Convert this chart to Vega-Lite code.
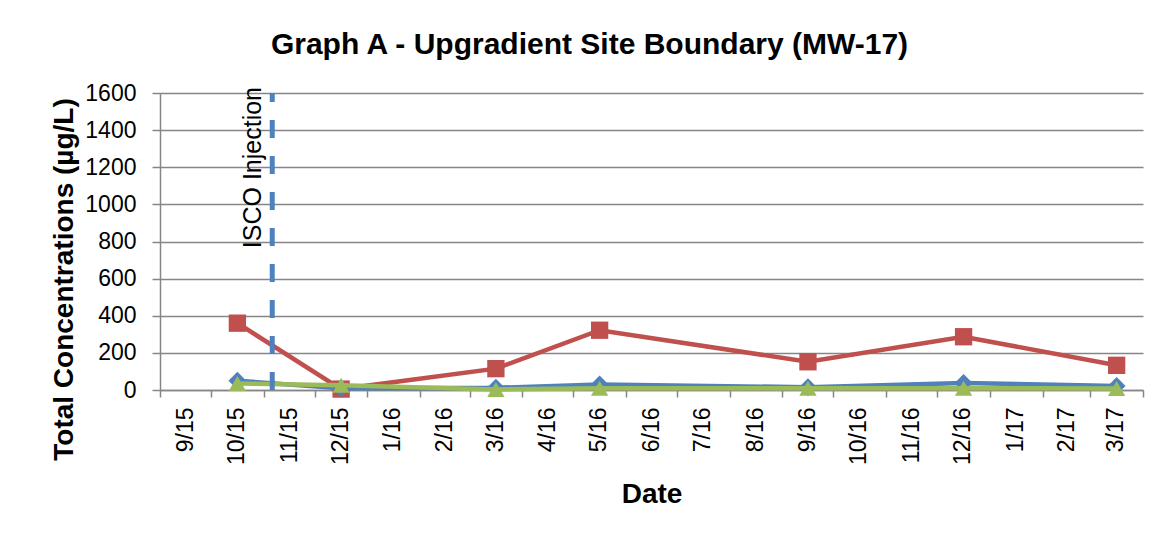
{
  "$schema": "https://vega.github.io/schema/vega-lite/v6.json",
  "width": 983,
  "height": 297,
  "autosize": {"type": "none"},
  "padding": {"left": 160, "top": 93, "right": 18, "bottom": 147},
  "background": "white",
  "config": {"view": {"stroke": null}, "font": "Liberation Sans"},
  "title": {
    "text": "Graph A - Upgradient Site Boundary (MW-17)",
    "font": "Liberation Sans",
    "fontSize": 30,
    "fontWeight": "bold",
    "color": "black",
    "anchor": "middle",
    "frame": "group",
    "dx": -62,
    "baseline": "alphabetic",
    "offset": -2
  },
  "datasets": {
    "obs": [
      {"date": "2015-10-16T12:00:00", "series": "Series 1", "value": 50},
      {"date": "2015-12-16T12:00:00", "series": "Series 1", "value": 10},
      {"date": "2016-03-16T12:00:00", "series": "Series 1", "value": 12},
      {"date": "2016-05-16T12:00:00", "series": "Series 1", "value": 30},
      {"date": "2016-09-16T00:00:00", "series": "Series 1", "value": 15},
      {"date": "2016-12-16T12:00:00", "series": "Series 1", "value": 38},
      {"date": "2017-03-16T12:00:00", "series": "Series 1", "value": 22},
      {"date": "2015-10-16T12:00:00", "series": "Series 2", "value": 360},
      {"date": "2015-12-16T12:00:00", "series": "Series 2", "value": 5},
      {"date": "2016-03-16T12:00:00", "series": "Series 2", "value": 115},
      {"date": "2016-05-16T12:00:00", "series": "Series 2", "value": 322},
      {"date": "2016-09-16T00:00:00", "series": "Series 2", "value": 152},
      {"date": "2016-12-16T12:00:00", "series": "Series 2", "value": 287},
      {"date": "2017-03-16T12:00:00", "series": "Series 2", "value": 133},
      {"date": "2015-10-16T12:00:00", "series": "Series 3", "value": 35},
      {"date": "2015-12-16T12:00:00", "series": "Series 3", "value": 25},
      {"date": "2016-03-16T12:00:00", "series": "Series 3", "value": 3},
      {"date": "2016-05-16T12:00:00", "series": "Series 3", "value": 10},
      {"date": "2016-09-16T00:00:00", "series": "Series 3", "value": 10},
      {"date": "2016-12-16T12:00:00", "series": "Series 3", "value": 10},
      {"date": "2017-03-16T12:00:00", "series": "Series 3", "value": 8}
    ],
    "event": [
      {"date": "2015-11-06T00:00:00", "label": "ISCO Injection", "ymin": 0, "ymax": 1600}
    ]
  },
  "layer": [
    {
      "data": {"name": "obs"},
      "transform": [{"filter": "datum.series === 'Series 2'"}],
      "mark": {"type": "line", "color": "#C0504D", "strokeWidth": 4.5},
      "encoding": {
        "x": {
          "field": "date", "type": "temporal",
          "scale": {"domain": [{"year": 2015, "month": 9, "date": 1}, {"year": 2017, "month": 4, "date": 1}]},
          "axis": {
            "orient": "bottom",
            "values": [
              {"year": 2015, "month": 9, "date": 16}, {"year": 2015, "month": 10, "date": 16}, {"year": 2015, "month": 11, "date": 16}, {"year": 2015, "month": 12, "date": 16},
              {"year": 2016, "month": 1, "date": 16}, {"year": 2016, "month": 2, "date": 15}, {"year": 2016, "month": 3, "date": 16}, {"year": 2016, "month": 4, "date": 16},
              {"year": 2016, "month": 5, "date": 16}, {"year": 2016, "month": 6, "date": 16}, {"year": 2016, "month": 7, "date": 16}, {"year": 2016, "month": 8, "date": 16},
              {"year": 2016, "month": 9, "date": 16}, {"year": 2016, "month": 10, "date": 16}, {"year": 2016, "month": 11, "date": 16}, {"year": 2016, "month": 12, "date": 16},
              {"year": 2017, "month": 1, "date": 16}, {"year": 2017, "month": 2, "date": 15}, {"year": 2017, "month": 3, "date": 16}
            ],
            "format": "%-m/%y",
            "labelAngle": 270,
            "labelAlign": "right",
            "labelBaseline": "middle",
            "labelPadding": 17,
            "labelFont": "Liberation Sans",
            "labelFontSize": 23,
            "labelColor": "black",
            "labelOverlap": false,
            "labelFlush": false,
            "labelBound": false,
            "ticks": false,
            "tickSize": 0,
            "domain": false,
            "grid": false,
            "title": "Date",
            "titleFont": "Liberation Sans",
            "titleFontSize": 28,
            "titleFontWeight": "bold",
            "titleColor": "black",
            "titleBaseline": "alphabetic",
            "titleY": 112
          }
        },
        "y": {
          "field": "value", "type": "quantitative",
          "scale": {"domain": [0, 1600], "nice": false},
          "axis": {
            "orient": "left",
            "values": [0, 200, 400, 600, 800, 1000, 1200, 1400, 1600],
            "format": "d",
            "grid": true,
            "gridColor": "#868686",
            "gridWidth": 1.5,
            "domainColor": "#868686",
            "domainWidth": 1.5,
            "tickColor": "#868686",
            "tickWidth": 1.5,
            "tickSize": 8,
            "labelPadding": 16,
            "labelFont": "Liberation Sans",
            "labelFontSize": 23,
            "labelColor": "black",
            "labelFlush": false,
            "labelOverlap": false,
            "title": "Total Concentrations (µg/L)",
            "titleFont": "Liberation Sans",
            "titleFontSize": 28,
            "titleFontWeight": "bold",
            "titleColor": "black",
            "titleAngle": 270,
            "titleAlign": "center",
            "titleBaseline": "alphabetic",
            "titleX": -88,
            "titleY": 186
          }
        }
      }
    },
    {
      "data": {"name": "obs"},
      "transform": [{"filter": "datum.series === 'Series 2'"}],
      "mark": {"type": "point", "shape": "square", "filled": true, "size": 300, "color": "#C0504D", "opacity": 1},
      "encoding": {
        "x": {
          "field": "date", "type": "temporal",
          "scale": {"domain": [{"year": 2015, "month": 9, "date": 1}, {"year": 2017, "month": 4, "date": 1}]},
          "axis": {
            "orient": "bottom",
            "values": [
              {"year": 2015, "month": 9, "date": 1}, {"year": 2015, "month": 10, "date": 1}, {"year": 2015, "month": 11, "date": 1}, {"year": 2015, "month": 12, "date": 1},
              {"year": 2016, "month": 1, "date": 1}, {"year": 2016, "month": 2, "date": 1}, {"year": 2016, "month": 3, "date": 1}, {"year": 2016, "month": 4, "date": 1},
              {"year": 2016, "month": 5, "date": 1}, {"year": 2016, "month": 6, "date": 1}, {"year": 2016, "month": 7, "date": 1}, {"year": 2016, "month": 8, "date": 1},
              {"year": 2016, "month": 9, "date": 1}, {"year": 2016, "month": 10, "date": 1}, {"year": 2016, "month": 11, "date": 1}, {"year": 2016, "month": 12, "date": 1},
              {"year": 2017, "month": 1, "date": 1}, {"year": 2017, "month": 2, "date": 1}, {"year": 2017, "month": 3, "date": 1}, {"year": 2017, "month": 4, "date": 1}
            ],
            "labels": false,
            "ticks": true,
            "tickSize": 7,
            "tickColor": "#868686",
            "tickWidth": 1.5,
            "domain": true,
            "domainColor": "#868686",
            "domainWidth": 1.5,
            "grid": false,
            "title": null
          }
        },
        "y": {"field": "value", "type": "quantitative", "scale": {"domain": [0, 1600], "nice": false}, "axis": null}
      }
    },
    {
      "data": {"name": "obs"},
      "transform": [{"filter": "datum.series === 'Series 1'"}],
      "mark": {"type": "line", "color": "#4F81BD", "strokeWidth": 4.5},
      "encoding": {
        "x": {"field": "date", "type": "temporal", "scale": {"domain": [{"year": 2015, "month": 9, "date": 1}, {"year": 2017, "month": 4, "date": 1}]}, "axis": null},
        "y": {"field": "value", "type": "quantitative", "scale": {"domain": [0, 1600], "nice": false}, "axis": null}
      }
    },
    {
      "data": {"name": "obs"},
      "transform": [{"filter": "datum.series === 'Series 1'"}],
      "mark": {"type": "point", "shape": "diamond", "filled": true, "size": 320, "color": "#4F81BD", "opacity": 1},
      "encoding": {
        "x": {"field": "date", "type": "temporal", "scale": {"domain": [{"year": 2015, "month": 9, "date": 1}, {"year": 2017, "month": 4, "date": 1}]}, "axis": null},
        "y": {"field": "value", "type": "quantitative", "scale": {"domain": [0, 1600], "nice": false}, "axis": null}
      }
    },
    {
      "data": {"name": "obs"},
      "transform": [{"filter": "datum.series === 'Series 3'"}],
      "mark": {"type": "line", "color": "#9BBB59", "strokeWidth": 4.5},
      "encoding": {
        "x": {"field": "date", "type": "temporal", "scale": {"domain": [{"year": 2015, "month": 9, "date": 1}, {"year": 2017, "month": 4, "date": 1}]}, "axis": null},
        "y": {"field": "value", "type": "quantitative", "scale": {"domain": [0, 1600], "nice": false}, "axis": null}
      }
    },
    {
      "data": {"name": "obs"},
      "transform": [{"filter": "datum.series === 'Series 3'"}],
      "mark": {"type": "point", "shape": "triangle-up", "filled": true, "size": 300, "color": "#9BBB59", "opacity": 1},
      "encoding": {
        "x": {"field": "date", "type": "temporal", "scale": {"domain": [{"year": 2015, "month": 9, "date": 1}, {"year": 2017, "month": 4, "date": 1}]}, "axis": null},
        "y": {"field": "value", "type": "quantitative", "scale": {"domain": [0, 1600], "nice": false}, "axis": null}
      }
    },
    {
      "data": {"name": "event"},
      "mark": {"type": "rule", "color": "#4F81BD", "strokeWidth": 5, "strokeDash": [18, 18]},
      "encoding": {
        "x": {"field": "date", "type": "temporal", "scale": {"domain": [{"year": 2015, "month": 9, "date": 1}, {"year": 2017, "month": 4, "date": 1}]}, "axis": null},
        "y": {"field": "ymin", "type": "quantitative", "scale": {"domain": [0, 1600], "nice": false}, "axis": null},
        "y2": {"field": "ymax"}
      }
    },
    {
      "data": {"name": "event"},
      "mark": {"type": "text", "angle": 270, "align": "right", "baseline": "alphabetic", "font": "Liberation Sans", "fontSize": 25, "color": "black", "dx": 6, "dy": -11},
      "encoding": {
        "x": {"field": "date", "type": "temporal", "scale": {"domain": [{"year": 2015, "month": 9, "date": 1}, {"year": 2017, "month": 4, "date": 1}]}, "axis": null},
        "y": {"field": "ymax", "type": "quantitative", "scale": {"domain": [0, 1600], "nice": false}, "axis": null},
        "text": {"field": "label"}
      }
    }
  ],
  "resolve": {"axis": {"x": "independent", "y": "independent"}}
}
